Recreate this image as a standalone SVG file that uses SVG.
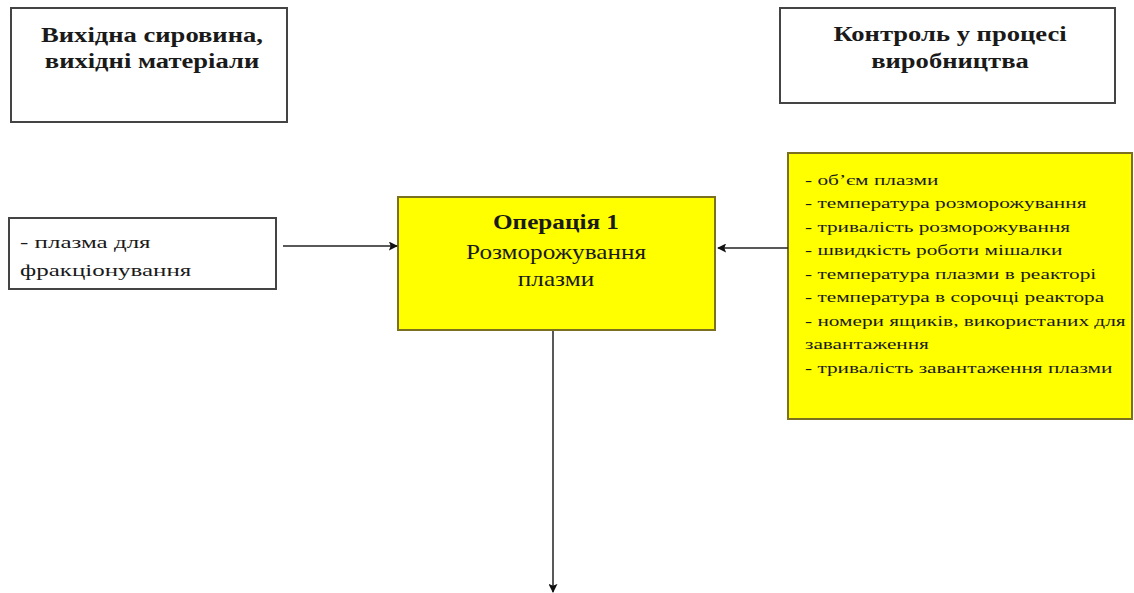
<svg xmlns="http://www.w3.org/2000/svg" width="1134" height="593" viewBox="0 0 1134 593">
<style>
.box{fill:#fff;stroke:#444;stroke-width:2}
.ybox{fill:#ffff00;stroke:#7a7020;stroke-width:2}
.t{font-family:"Liberation Serif","DejaVu Serif",serif;fill:#1a1a1a}
.h{font-size:20px;font-weight:bold;text-anchor:middle}
.s{font-size:17px}
.c{font-size:15px}
.op{font-size:21px;text-anchor:middle}
.ln{stroke:#222;stroke-width:1.5;fill:none}
</style>
<defs>
<marker id="ah" viewBox="0 0 10 10" refX="9" refY="5" markerWidth="9" markerHeight="9" markerUnits="userSpaceOnUse" orient="auto"><path d="M0,0 L10,5 L0,10 L2,5 z" fill="#111"/></marker>
</defs>
<rect width="1134" height="593" fill="#fff"/>
<g id="node-input">
<rect class="box" x="11" y="8" width="276" height="114"/>
<g transform="matrix(1.33,0,0,1,-50.16,0)">
<text class="t h" x="152" y="42">Вихідна сировина,</text>
<text class="t h" x="152" y="68">вихідні матеріали</text>
</g>
</g>
<g id="node-control">
<rect class="box" x="780" y="8" width="335" height="95"/>
<g transform="matrix(1.33,0,0,1,-313.5,0)">
<text class="t h" x="950" y="41">Контроль у процесі</text>
<text class="t h" x="950" y="68">виробництва</text>
</g>
</g>
<g id="node-plasma">
<rect class="box" x="9" y="218" width="267" height="71"/>
<g transform="matrix(1.47,0,0,1,-9.4,0)">
<text class="t s" x="20" y="248">- плазма для</text>
<text class="t s" x="20" y="276">фракціонування</text>
</g>
</g>
<g id="node-op1">
<rect class="ybox" x="398" y="197" width="317" height="133"/>
<g transform="matrix(1.2,0,0,1,-111.2,0)">
<text class="t op" x="556" y="229" font-weight="bold">Операція 1</text>
<text class="t op" x="556" y="259">Розморожування</text>
<text class="t op" x="556" y="286">плазми</text>
</g>
</g>
<g id="node-params">
<rect class="ybox" x="788" y="153" width="344" height="266"/>
<g transform="matrix(1.42,0,0,1,-338.1,0)">
<text class="t c" x="805" y="185">- об’єм плазми</text>
<text class="t c" x="805" y="208.5">- температура розморожування</text>
<text class="t c" x="805" y="232">- тривалість розморожування</text>
<text class="t c" x="805" y="255.5">- швидкість роботи мішалки</text>
<text class="t c" x="805" y="279">- температура плазми в реакторі</text>
<text class="t c" x="805" y="302.5">- температура в сорочці реактора</text>
<text class="t c" x="805" y="326">- номери ящиків, використаних для</text>
<text class="t c" x="805" y="349.5">завантаження</text>
<text class="t c" x="805" y="373">- тривалість завантаження плазми</text>
</g>
</g>
<g id="connectors">
<line class="ln" x1="283" y1="246" x2="397" y2="246" marker-end="url(#ah)"/>
<line class="ln" x1="788" y1="248" x2="718" y2="248" marker-end="url(#ah)"/>
<line class="ln" x1="553" y1="331" x2="553" y2="592" marker-end="url(#ah)"/>
</g>
</svg>
